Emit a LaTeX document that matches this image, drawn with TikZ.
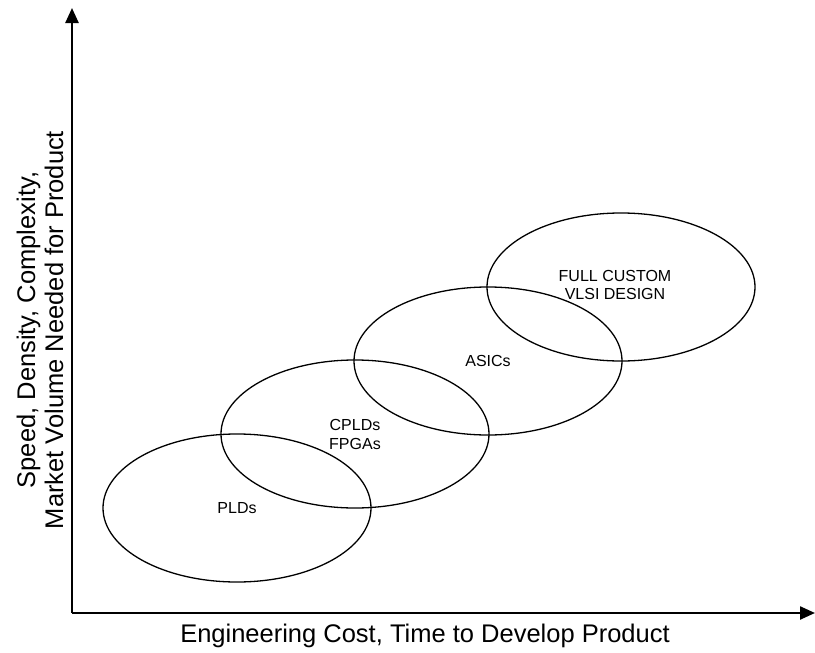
\documentclass[tikz,border=0pt]{standalone}
\usepackage{fontspec}
\setmainfont{Liberation Sans}
\usetikzlibrary{arrows.meta,shapes.geometric}
\tikzset{
  zone/.style={draw, ellipse, line width=1.3pt, inner sep=0pt, minimum width=268pt, minimum height=148pt, align=center, font=\fontsize{16}{19}\selectfont},
  zonetext/.style={font=\fontsize{16}{18.5}\selectfont, align=center},
  axis/.style={line width=2.4pt, -{Triangle[length=15pt,width=13pt]}},
  axlabel/.style={font=\fontsize{25.5}{28}\selectfont, align=center}
}
\begin{document}
\begin{tikzpicture}[x=1pt,y=-1pt]
\useasboundingbox (0,0) rectangle (815,653);
\coordinate (origin) at (72,613);
\coordinate (ytop) at (72,8);
\coordinate (xend) at (815,613);
\draw[axis] (origin) -- (ytop);
\draw[axis] (origin) -- (xend);
\node[zone] (plds) at (237,508) {PLDs};
\node[zone] (cplds) at (355,434) {CPLDs\\FPGAs};
\node[zone] (asics) at (488,361) {ASICs};
\node[zone] (full) at (621,287) {};
\node[zonetext] (fulltext) at (615,285) {FULL CUSTOM\\VLSI DESIGN};
\node[axlabel] (xlab) at (425,636) {Engineering Cost, Time to Develop Product};
\node[axlabel, rotate=90] (ylab) at (40,330) {Speed, Density, Complexity,\\Market Volume Needed for Product};
\end{tikzpicture}
\end{document}
